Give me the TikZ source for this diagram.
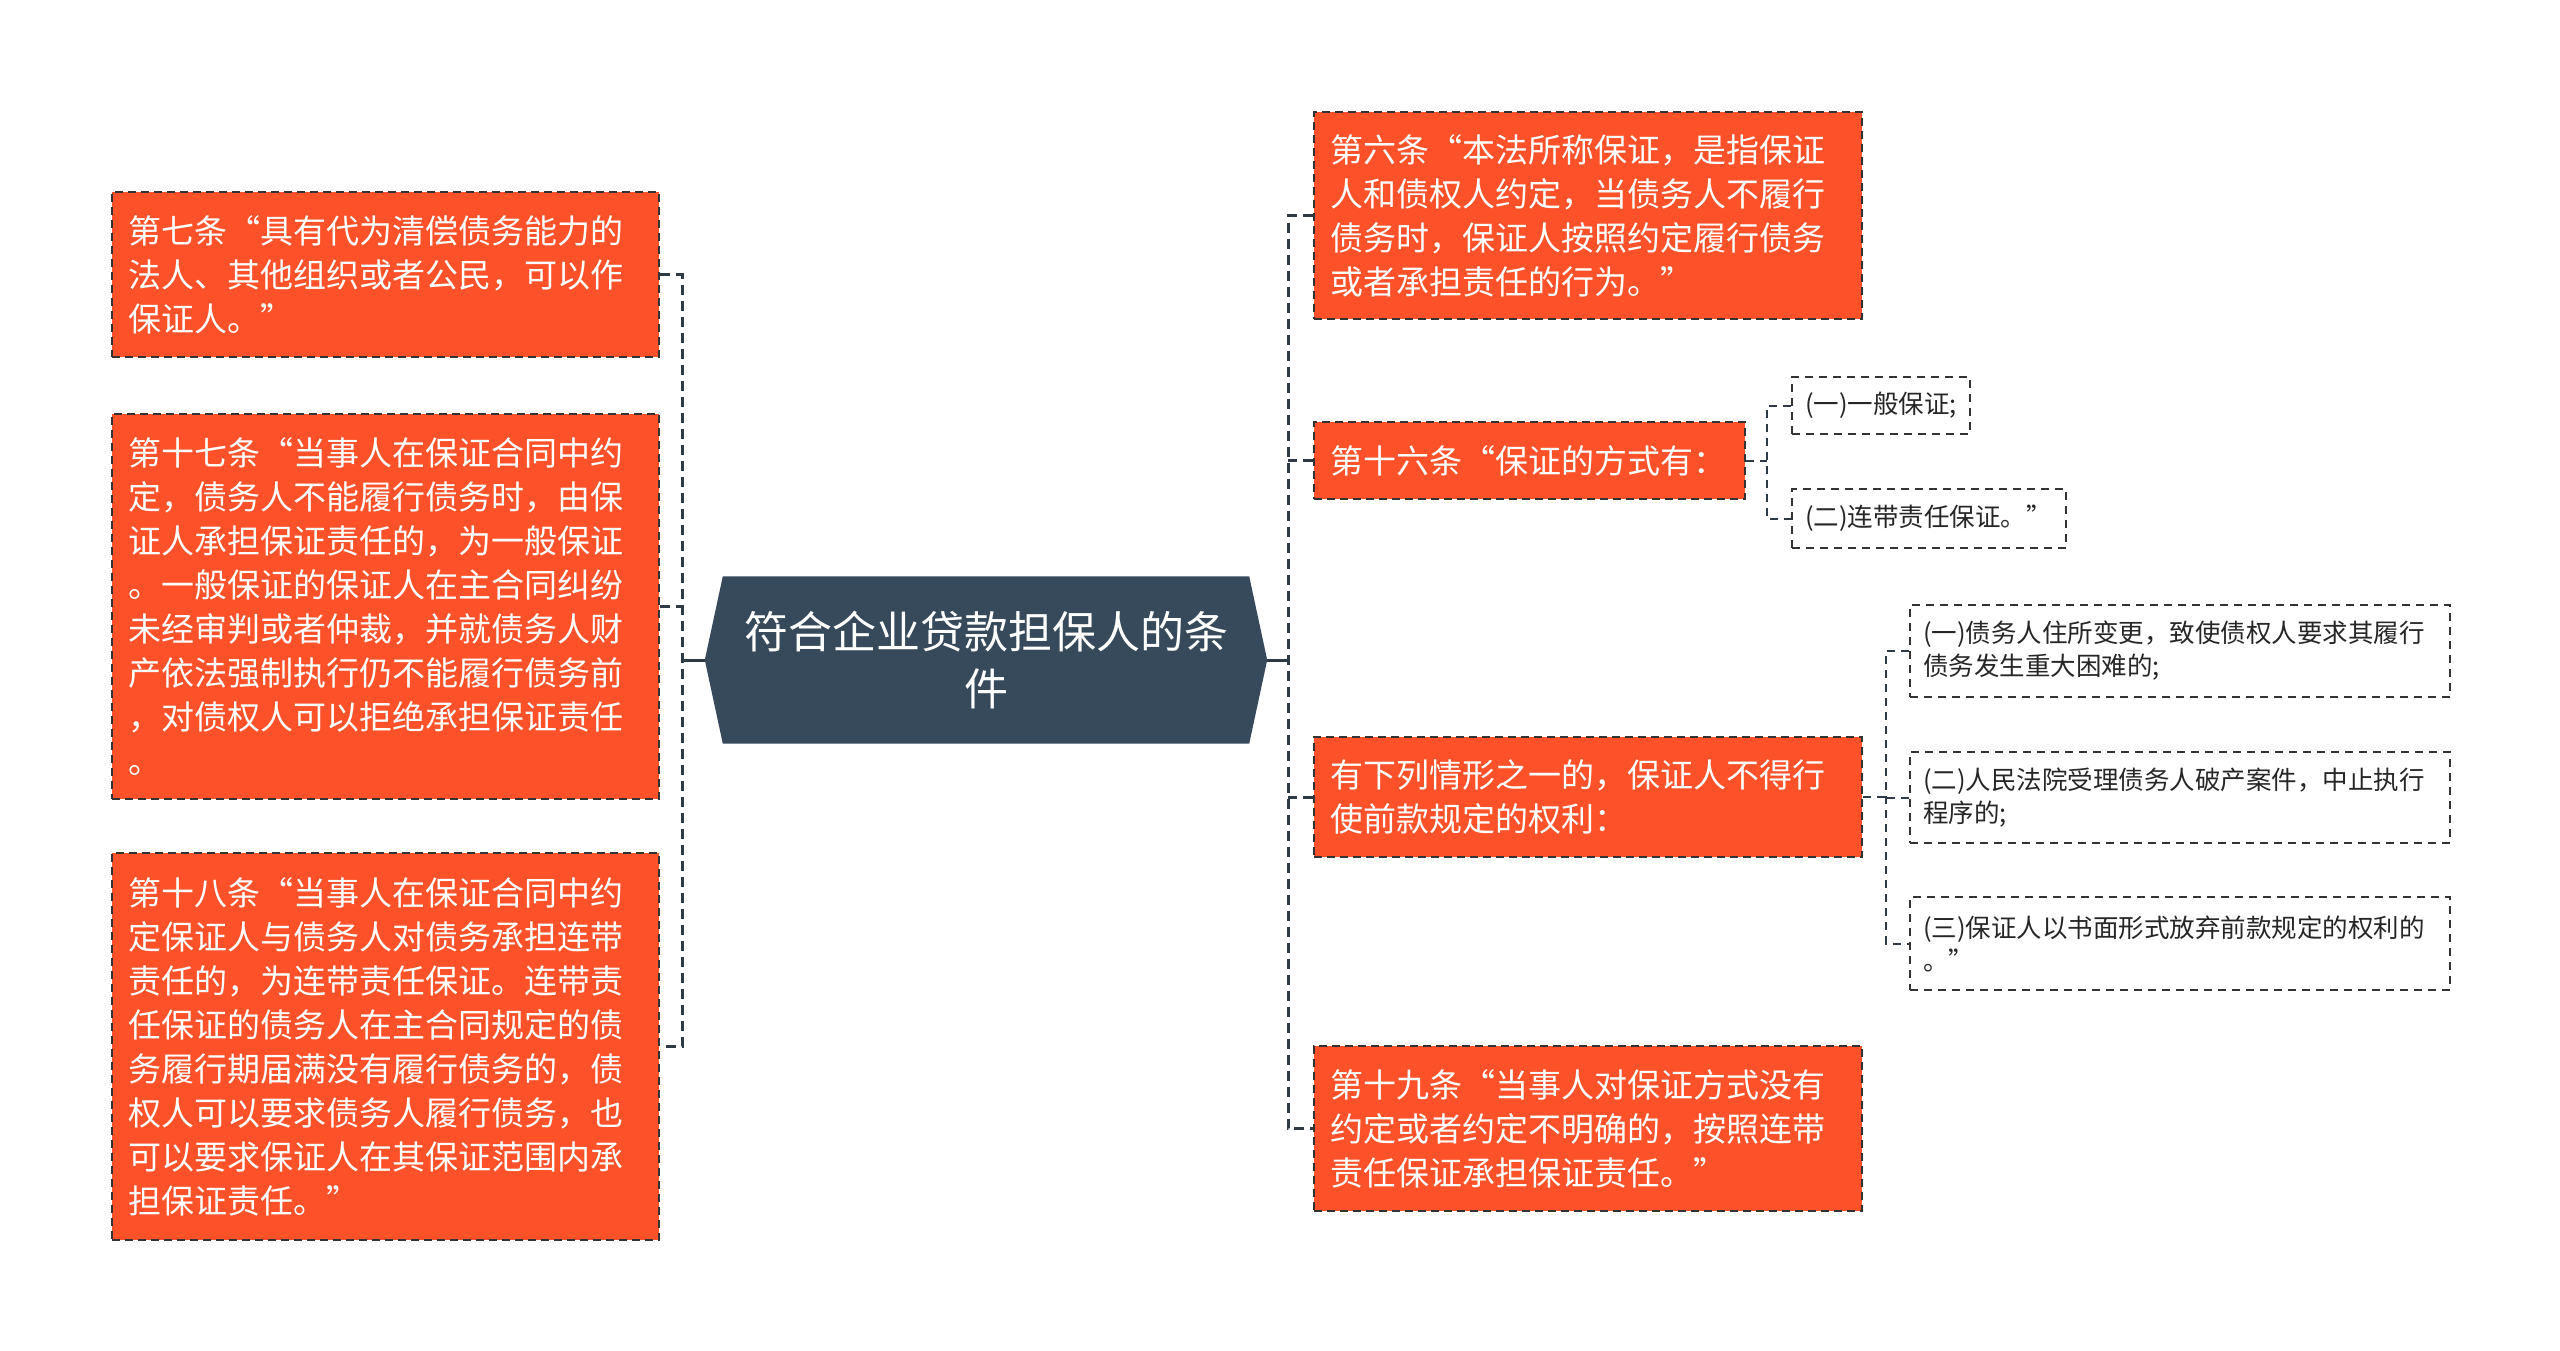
\documentclass[tikz,border=0pt]{standalone}
\usepackage{fontspec}
\setmainfont{Noto Sans CJK SC}
\definecolor{obox}{HTML}{FD5129}
\definecolor{rootc}{HTML}{364A5B}
\definecolor{linec}{HTML}{2E3A46}
\definecolor{edgec}{HTML}{333333}
\tikzset{
  conn/.style={draw=linec, line width=3pt, dash pattern=on 10pt off 6pt},
  rootconn/.style={draw=linec, line width=3pt},
  subconn/.style={draw=linec, line width=2pt, dash pattern=on 8pt off 6pt},
  orangebox/.style={draw=edgec, line width=2pt, dash pattern=on 8pt off 5pt, fill=obox, text=white,
    font=\fontsize{33}{44}\selectfont, align=left, inner xsep=16pt, inner ysep=0pt, anchor=north west},
  subbox/.style={draw=edgec, line width=2pt, dash pattern=on 8pt off 6pt, fill=white, text=black!85,
    font=\fontsize{25.5}{33}\selectfont, align=left, inner xsep=13pt, inner ysep=0pt, anchor=north west},
}
\begin{document}
\begin{tikzpicture}[x=1pt,y=-1pt]
\useasboundingbox[fill=white] (0,0) rectangle (2560,1350);

% root
\node[minimum width=562pt, minimum height=167pt, inner sep=0pt, text=white, align=center,
  font=\fontsize{44}{57}\selectfont] (root) at (986,660) {};
\fill[rootc] ([xshift=18pt]root.north west) -- ([xshift=-18pt]root.north east) -- (root.east)
  -- ([xshift=-18pt]root.south east) -- ([xshift=18pt]root.south west) -- (root.west) -- cycle;
\node[text=white, align=center, font=\fontsize{44}{57}\selectfont] (roottext) at (root.center) {符合企业贷款担保人的条\\件};

% left boxes
\node[orangebox, text width=515pt, minimum height=165pt] (b7) at (111,191)
 {第七条“具有代为清偿债务能力的\\法人、其他组织或者公民，可以作\\保证人。”};
\node[orangebox, text width=515pt, minimum height=385pt] (b17) at (111,413)
 {第十七条“当事人在保证合同中约\\定，债务人不能履行债务时，由保\\证人承担保证责任的，为一般保证\\。一般保证的保证人在主合同纠纷\\未经审判或者仲裁，并就债务人财\\产依法强制执行仍不能履行债务前\\，对债权人可以拒绝承担保证责任\\。};
\node[orangebox, text width=515pt, minimum height=387pt] (b18) at (111,852)
 {第十八条“当事人在保证合同中约\\定保证人与债务人对债务承担连带\\责任的，为连带责任保证。连带责\\任保证的债务人在主合同规定的债\\务履行期届满没有履行债务的，债\\权人可以要求债务人履行债务，也\\可以要求保证人在其保证范围内承\\担保证责任。”};

% right boxes
\node[orangebox, text width=516pt, minimum height=207pt] (b6) at (1313,111)
 {第六条“本法所称保证，是指保证\\人和债权人约定，当债务人不履行\\债务时，保证人按照约定履行债务\\或者承担责任的行为。”};
\node[orangebox, text width=399pt, minimum height=77pt] (b16) at (1313,421)
 {第十六条“保证的方式有：};
\node[orangebox, text width=516pt, minimum height=120pt] (bq) at (1313,736)
 {有下列情形之一的，保证人不得行\\使前款规定的权利：};
\node[orangebox, text width=516pt, minimum height=165pt] (b19) at (1313,1045)
 {第十九条“当事人对保证方式没有\\约定或者约定不明确的，按照连带\\责任保证承担保证责任。”};

% sub boxes
\node[subbox, text width=152pt, minimum height=57pt] (s1) at (1791,376) {(一)一般保证;};
\node[subbox, text width=248pt, minimum height=59pt] (s2) at (1791,488) {(二)连带责任保证。”};
\node[subbox, text width=514pt, minimum height=92pt] (q1) at (1909,604) {(一)债务人住所变更，致使债权人要求其履行\\债务发生重大困难的;};
\node[subbox, text width=514pt, minimum height=91pt] (q2) at (1909,751) {(二)人民法院受理债务人破产案件，中止执行\\程序的;};
\node[subbox, text width=514pt, minimum height=93pt] (q3) at (1909,896) {(三)保证人以书面形式放弃前款规定的权利的\\。”};

% buses
\coordinate (lbus) at (682,0);
\coordinate (rbus) at (1288,0);
\coordinate (sbus) at (1767,0);
\coordinate (qbus) at (1886,0);

% left connectors
\draw[rootconn] (root.west) -- (root.west -| lbus);
\draw[conn] (b7.east) -- (b7.east -| lbus) -- (b18.east -| lbus) -- (b18.east);
\draw[conn] (b17.east) -- (b17.east -| lbus);

% right connectors
\draw[rootconn] (root.east) -- (root.east -| rbus);
\draw[conn] (b6.west) -- (b6.west -| rbus) -- (b19.west -| rbus) -- (b19.west);
\draw[conn] (b16.west) -- (b16.west -| rbus);
\draw[conn] (bq.west) -- (bq.west -| rbus);

% b16 children
\draw[subconn] (b16.east) -- (b16.east -| sbus);
\draw[subconn] (s1.west) -- (s1.west -| sbus) -- (s2.west -| sbus) -- (s2.west);

% bq children
\draw[subconn] (bq.east) -- (bq.east -| qbus);
\draw[subconn] (q1.west) -- (q1.west -| qbus) -- (q3.west -| qbus) -- (q3.west);
\draw[subconn] (q2.west) -- (q2.west -| qbus);
\end{tikzpicture}
\end{document}
